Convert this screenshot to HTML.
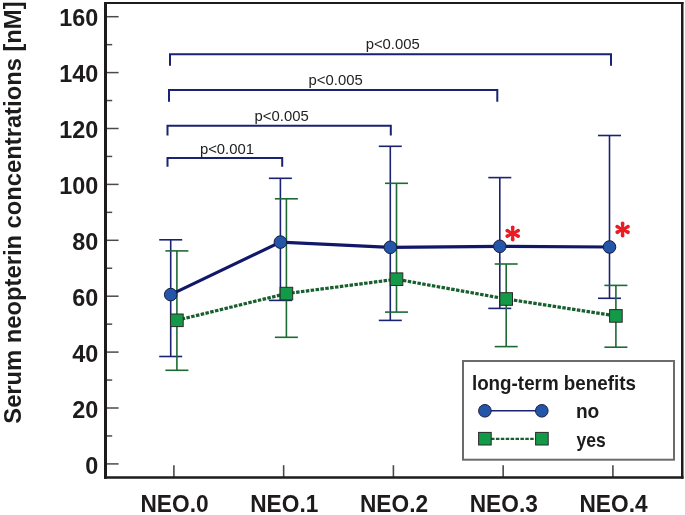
<!DOCTYPE html><html><head><meta charset="utf-8"><style>html,body{margin:0;padding:0;background:#fff;}svg{display:block;will-change:transform;}text{font-family:"Liberation Sans",sans-serif;}</style></head><body>
<svg width="685" height="515" viewBox="0 0 685 515">
<rect width="685" height="515" fill="#fff"/>
<line x1="106" y1="463.90" x2="118.6" y2="463.90" stroke="#4a4a4a" stroke-width="1.5"/>
<line x1="106" y1="435.95" x2="112.2" y2="435.95" stroke="#4a4a4a" stroke-width="1.5"/>
<line x1="106" y1="408.00" x2="118.6" y2="408.00" stroke="#4a4a4a" stroke-width="1.5"/>
<line x1="106" y1="380.05" x2="112.2" y2="380.05" stroke="#4a4a4a" stroke-width="1.5"/>
<line x1="106" y1="352.10" x2="118.6" y2="352.10" stroke="#4a4a4a" stroke-width="1.5"/>
<line x1="106" y1="324.15" x2="112.2" y2="324.15" stroke="#4a4a4a" stroke-width="1.5"/>
<line x1="106" y1="296.20" x2="118.6" y2="296.20" stroke="#4a4a4a" stroke-width="1.5"/>
<line x1="106" y1="268.25" x2="112.2" y2="268.25" stroke="#4a4a4a" stroke-width="1.5"/>
<line x1="106" y1="240.30" x2="118.6" y2="240.30" stroke="#4a4a4a" stroke-width="1.5"/>
<line x1="106" y1="212.35" x2="112.2" y2="212.35" stroke="#4a4a4a" stroke-width="1.5"/>
<line x1="106" y1="184.40" x2="118.6" y2="184.40" stroke="#4a4a4a" stroke-width="1.5"/>
<line x1="106" y1="156.45" x2="112.2" y2="156.45" stroke="#4a4a4a" stroke-width="1.5"/>
<line x1="106" y1="128.50" x2="118.6" y2="128.50" stroke="#4a4a4a" stroke-width="1.5"/>
<line x1="106" y1="100.55" x2="112.2" y2="100.55" stroke="#4a4a4a" stroke-width="1.5"/>
<line x1="106" y1="72.60" x2="118.6" y2="72.60" stroke="#4a4a4a" stroke-width="1.5"/>
<line x1="106" y1="44.65" x2="112.2" y2="44.65" stroke="#4a4a4a" stroke-width="1.5"/>
<line x1="106" y1="16.70" x2="118.6" y2="16.70" stroke="#4a4a4a" stroke-width="1.5"/>
<line x1="173.90" y1="465.2" x2="173.90" y2="477" stroke="#4a4a4a" stroke-width="1.6"/>
<line x1="283.65" y1="465.2" x2="283.65" y2="477" stroke="#4a4a4a" stroke-width="1.6"/>
<line x1="393.40" y1="465.2" x2="393.40" y2="477" stroke="#4a4a4a" stroke-width="1.6"/>
<line x1="503.15" y1="465.2" x2="503.15" y2="477" stroke="#4a4a4a" stroke-width="1.6"/>
<line x1="612.90" y1="465.2" x2="612.90" y2="477" stroke="#4a4a4a" stroke-width="1.6"/>
<line x1="105.5" y1="2" x2="105.5" y2="478.7" stroke="#1d1b1c" stroke-width="3"/>
<line x1="104" y1="3" x2="683.5" y2="3" stroke="#1d1b1c" stroke-width="2"/>
<line x1="682.25" y1="2" x2="682.25" y2="478.7" stroke="#1d1b1c" stroke-width="2.5"/>
<line x1="104" y1="477.5" x2="683.5" y2="477.5" stroke="#1d1b1c" stroke-width="2.4"/>
<text x="98.2" y="473.50" font-size="23.4" font-weight="bold" text-anchor="end" fill="#1d1b1c">0</text>
<text x="98.2" y="417.60" font-size="23.4" font-weight="bold" text-anchor="end" fill="#1d1b1c">20</text>
<text x="98.2" y="361.70" font-size="23.4" font-weight="bold" text-anchor="end" fill="#1d1b1c">40</text>
<text x="98.2" y="305.80" font-size="23.4" font-weight="bold" text-anchor="end" fill="#1d1b1c">60</text>
<text x="98.2" y="249.90" font-size="23.4" font-weight="bold" text-anchor="end" fill="#1d1b1c">80</text>
<text x="98.2" y="194.00" font-size="23.4" font-weight="bold" text-anchor="end" fill="#1d1b1c">100</text>
<text x="98.2" y="138.10" font-size="23.4" font-weight="bold" text-anchor="end" fill="#1d1b1c">120</text>
<text x="98.2" y="82.20" font-size="23.4" font-weight="bold" text-anchor="end" fill="#1d1b1c">140</text>
<text x="98.2" y="26.30" font-size="23.4" font-weight="bold" text-anchor="end" fill="#1d1b1c">160</text>
<text transform="translate(174.50,512.2) scale(0.97,1)" font-size="23.4" font-weight="bold" text-anchor="middle" fill="#1d1b1c">NEO.0</text>
<text transform="translate(284.25,512.2) scale(0.97,1)" font-size="23.4" font-weight="bold" text-anchor="middle" fill="#1d1b1c">NEO.1</text>
<text transform="translate(394.00,512.2) scale(0.97,1)" font-size="23.4" font-weight="bold" text-anchor="middle" fill="#1d1b1c">NEO.2</text>
<text transform="translate(503.75,512.2) scale(0.97,1)" font-size="23.4" font-weight="bold" text-anchor="middle" fill="#1d1b1c">NEO.3</text>
<text transform="translate(613.50,512.2) scale(0.97,1)" font-size="23.4" font-weight="bold" text-anchor="middle" fill="#1d1b1c">NEO.4</text>
<text transform="translate(21.2,423.7) rotate(-90)" x="0" y="0" font-size="23.76" font-weight="bold" fill="#1d1b1c">Serum neopterin concentrations [nM]</text>
<polyline points="170,65.7 170,54.2 611,54.2 611,65.7" fill="none" stroke="#1b2272" stroke-width="2"/>
<polyline points="169,101.8 169,90.0 497.3,90.0 497.3,101.8" fill="none" stroke="#1b2272" stroke-width="2"/>
<polyline points="167.5,135.5 167.5,125.8 390.8,125.8 390.8,135.5" fill="none" stroke="#1b2272" stroke-width="2"/>
<polyline points="167.5,166.8 167.5,158.1 282.2,158.1 282.2,166.8" fill="none" stroke="#1b2272" stroke-width="2"/>
<text transform="translate(365.65,49.4) scale(1.025,1)" font-size="14.5" fill="#222">p&lt;0.005</text>
<text transform="translate(308.60,84.9) scale(1.025,1)" font-size="14.5" fill="#222">p&lt;0.005</text>
<text transform="translate(254.60,120.9) scale(1.025,1)" font-size="14.5" fill="#222">p&lt;0.005</text>
<text transform="translate(199.90,153.9) scale(1.025,1)" font-size="14.5" fill="#222">p&lt;0.001</text>
<line x1="170.7" y1="239.8" x2="170.7" y2="356.5" stroke="#1b2272" stroke-width="1.6"/>
<line x1="159.2" y1="239.8" x2="182.2" y2="239.8" stroke="#1b2272" stroke-width="1.6"/>
<line x1="159.2" y1="356.5" x2="182.2" y2="356.5" stroke="#1b2272" stroke-width="1.6"/>
<line x1="280.4" y1="178.3" x2="280.4" y2="300.4" stroke="#1b2272" stroke-width="1.6"/>
<line x1="268.9" y1="178.3" x2="291.9" y2="178.3" stroke="#1b2272" stroke-width="1.6"/>
<line x1="268.9" y1="300.4" x2="291.9" y2="300.4" stroke="#1b2272" stroke-width="1.6"/>
<line x1="390.3" y1="146.3" x2="390.3" y2="320.4" stroke="#1b2272" stroke-width="1.6"/>
<line x1="378.8" y1="146.3" x2="401.8" y2="146.3" stroke="#1b2272" stroke-width="1.6"/>
<line x1="378.8" y1="320.4" x2="401.8" y2="320.4" stroke="#1b2272" stroke-width="1.6"/>
<line x1="499.8" y1="177.6" x2="499.8" y2="308.4" stroke="#1b2272" stroke-width="1.6"/>
<line x1="488.3" y1="177.6" x2="511.3" y2="177.6" stroke="#1b2272" stroke-width="1.6"/>
<line x1="488.3" y1="308.4" x2="511.3" y2="308.4" stroke="#1b2272" stroke-width="1.6"/>
<line x1="609.5" y1="135.5" x2="609.5" y2="298.3" stroke="#1b2272" stroke-width="1.6"/>
<line x1="598.0" y1="135.5" x2="621.0" y2="135.5" stroke="#1b2272" stroke-width="1.6"/>
<line x1="598.0" y1="298.3" x2="621.0" y2="298.3" stroke="#1b2272" stroke-width="1.6"/>
<line x1="176.9" y1="250.9" x2="176.9" y2="370.3" stroke="#1d6a35" stroke-width="1.6"/>
<line x1="165.4" y1="250.9" x2="188.4" y2="250.9" stroke="#1d6a35" stroke-width="1.6"/>
<line x1="165.4" y1="370.3" x2="188.4" y2="370.3" stroke="#1d6a35" stroke-width="1.6"/>
<line x1="286.4" y1="198.8" x2="286.4" y2="337.3" stroke="#1d6a35" stroke-width="1.6"/>
<line x1="274.9" y1="198.8" x2="297.9" y2="198.8" stroke="#1d6a35" stroke-width="1.6"/>
<line x1="274.9" y1="337.3" x2="297.9" y2="337.3" stroke="#1d6a35" stroke-width="1.6"/>
<line x1="396.5" y1="183.3" x2="396.5" y2="312.1" stroke="#1d6a35" stroke-width="1.6"/>
<line x1="385.0" y1="183.3" x2="408.0" y2="183.3" stroke="#1d6a35" stroke-width="1.6"/>
<line x1="385.0" y1="312.1" x2="408.0" y2="312.1" stroke="#1d6a35" stroke-width="1.6"/>
<line x1="506.2" y1="264.0" x2="506.2" y2="346.6" stroke="#1d6a35" stroke-width="1.6"/>
<line x1="494.7" y1="264.0" x2="517.7" y2="264.0" stroke="#1d6a35" stroke-width="1.6"/>
<line x1="494.7" y1="346.6" x2="517.7" y2="346.6" stroke="#1d6a35" stroke-width="1.6"/>
<line x1="615.9" y1="285.4" x2="615.9" y2="347.2" stroke="#1d6a35" stroke-width="1.6"/>
<line x1="604.4" y1="285.4" x2="627.4" y2="285.4" stroke="#1d6a35" stroke-width="1.6"/>
<line x1="604.4" y1="347.2" x2="627.4" y2="347.2" stroke="#1d6a35" stroke-width="1.6"/>
<polyline points="170.7,294.6 280.4,242.1 390.3,247.3 499.8,246.3 609.5,247.0" fill="none" stroke="#111869" stroke-width="3.2"/>
<polyline points="176.9,320.3 286.4,293.6 396.5,279.2 506.2,299.0 615.9,315.9" fill="none" stroke="#175f2e" stroke-width="3.2" stroke-dasharray="3.5 1.4"/>
<circle cx="170.7" cy="294.6" r="6.3" fill="#2356a8" stroke="#1a1d3f" stroke-width="1"/>
<circle cx="280.4" cy="242.1" r="6.3" fill="#2356a8" stroke="#1a1d3f" stroke-width="1"/>
<circle cx="390.3" cy="247.3" r="6.3" fill="#2356a8" stroke="#1a1d3f" stroke-width="1"/>
<circle cx="499.8" cy="246.3" r="6.3" fill="#2356a8" stroke="#1a1d3f" stroke-width="1"/>
<circle cx="609.5" cy="247.0" r="6.3" fill="#2356a8" stroke="#1a1d3f" stroke-width="1"/>
<rect x="170.60" y="314.00" width="12.6" height="12.6" fill="#139a48" stroke="#2a2a2a" stroke-width="1"/>
<rect x="280.10" y="287.30" width="12.6" height="12.6" fill="#139a48" stroke="#2a2a2a" stroke-width="1"/>
<rect x="390.20" y="272.90" width="12.6" height="12.6" fill="#139a48" stroke="#2a2a2a" stroke-width="1"/>
<rect x="499.90" y="292.70" width="12.6" height="12.6" fill="#139a48" stroke="#2a2a2a" stroke-width="1"/>
<rect x="609.60" y="309.60" width="12.6" height="12.6" fill="#139a48" stroke="#2a2a2a" stroke-width="1"/>
<path d="M513.85,233.40 L514.60,227.30 A1.9,1.9 0 0 0 510.80,227.30 L511.55,233.40 Z M511.55,233.40 L510.80,239.50 A1.9,1.9 0 0 0 514.60,239.50 L513.85,233.40 Z M513.22,234.42 L519.00,232.32 A1.9,1.9 0 0 0 517.27,228.94 L512.18,232.38 Z M513.22,232.38 L508.13,228.94 A1.9,1.9 0 0 0 506.40,232.32 L512.18,234.42 Z M512.18,232.38 L506.40,234.48 A1.9,1.9 0 0 0 508.13,237.86 L513.22,234.42 Z M512.18,234.42 L517.27,237.86 A1.9,1.9 0 0 0 519.00,234.48 L513.22,232.38 Z" fill="#ec1c24"/><circle cx="512.7" cy="233.4" r="1.8399999999999999" fill="#ec1c24"/>
<path d="M623.75,229.45 L624.50,223.35 A1.9,1.9 0 0 0 620.70,223.35 L621.45,229.45 Z M621.45,229.45 L620.70,235.55 A1.9,1.9 0 0 0 624.50,235.55 L623.75,229.45 Z M623.12,230.47 L628.90,228.37 A1.9,1.9 0 0 0 627.17,224.99 L622.08,228.43 Z M623.12,228.43 L618.03,224.99 A1.9,1.9 0 0 0 616.30,228.37 L622.08,230.47 Z M622.08,228.43 L616.30,230.53 A1.9,1.9 0 0 0 618.03,233.91 L623.12,230.47 Z M622.08,230.47 L627.17,233.91 A1.9,1.9 0 0 0 628.90,230.53 L623.12,228.43 Z" fill="#ec1c24"/><circle cx="622.6" cy="229.45" r="1.8399999999999999" fill="#ec1c24"/>
<rect x="463" y="361" width="211" height="98.7" fill="#fff" stroke="#6b6b6b" stroke-width="2"/>
<text transform="translate(471.9,389.7) scale(0.965,1)" font-size="19.5" font-weight="bold" fill="#1d1b1c">long-term benefits</text>
<line x1="484.9" y1="410.8" x2="541.8" y2="410.8" stroke="#1b2272" stroke-width="1.5"/>
<circle cx="484.9" cy="410.8" r="6.3" fill="#2356a8" stroke="#1a1d3f" stroke-width="1"/>
<circle cx="541.8" cy="410.8" r="6.3" fill="#2356a8" stroke="#1a1d3f" stroke-width="1"/>
<line x1="491" y1="438.8" x2="536" y2="438.8" stroke="#175f2e" stroke-width="2.2" stroke-dasharray="3.5 1.4"/>
<rect x="478.6" y="432.4" width="12.6" height="12.6" fill="#139a48" stroke="#2a2a2a" stroke-width="1"/>
<rect x="535.6" y="432.4" width="12.6" height="12.6" fill="#139a48" stroke="#2a2a2a" stroke-width="1"/>
<text transform="translate(575.9,418.35) scale(0.93,1)" font-size="20.6" font-weight="bold" fill="#1d1b1c">no</text>
<text transform="translate(576.6,446.9) scale(0.86,1)" font-size="20.4" font-weight="bold" fill="#1d1b1c">yes</text>
</svg></body></html>
